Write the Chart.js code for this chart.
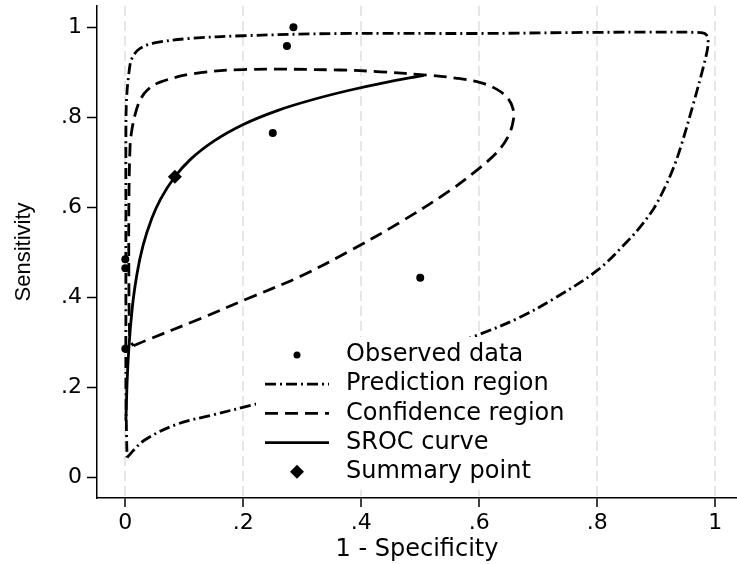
<!DOCTYPE html>
<html lang="en">
<head>
<meta charset="UTF-8">
<title>SROC plot</title>
<script src="https://cdn.jsdelivr.net/npm/chart.js"></script>
<style>
  html, body { margin: 0; padding: 0; background: #fff; overflow: hidden; }
</style>
</head>
<body>
<canvas id="sroc" width="737" height="564"></canvas>
<script>
  // axis ticks (Stata style labels)
  const xTicks = [0, 0.2, 0.4, 0.6, 0.8, 1];
  const xTickLabels = ['0', '.2', '.4', '.6', '.8', '1'];
  const yTicks = [0, 0.2, 0.4, 0.6, 0.8, 1];
  const yTickLabels = ['0', '.2', '.4', '.6', '.8', '1'];

  // observed studies (1 - specificity, sensitivity)
  const obsX = [0.285, 0.274, 0.250, 0.500, 0.0, 0.0, 0.0];
  const obsY = [1.000, 0.958, 0.765, 0.444, 0.485, 0.465, 0.286];

  // 95% prediction region
  const predX = [0.003, 0.031, 0.088, 0.144, 0.217, 0.300, 0.400, 0.500, 0.602, 0.669, 0.726, 0.800, 0.850, 0.875,
    0.897, 0.915, 0.930, 0.943, 0.963, 0.980, 0.988, 0.985, 0.975, 0.884, 0.750, 0.602, 0.364, 0.200, 0.110,
    0.054, 0.025, 0.011, 0.006, 0.002, 0.001, 0.001, 0.001, 0.001, 0.002, 0.003];
  const predY = [0.045, 0.082, 0.119, 0.138, 0.162, 0.190, 0.228, 0.271, 0.319, 0.356, 0.397, 0.460, 0.523, 0.560,
    0.600, 0.645, 0.690, 0.740, 0.830, 0.912, 0.962, 0.983, 0.988, 0.989, 0.988, 0.986, 0.986, 0.981, 0.975,
    0.966, 0.953, 0.930, 0.897, 0.838, 0.764, 0.600, 0.400, 0.200, 0.100, 0.045];

  // 95% confidence region
  const confX = [0.014, 0.034, 0.127, 0.212, 0.297, 0.381, 0.466, 0.551, 0.602, 0.632, 0.650, 0.658, 0.657, 0.648,
    0.630, 0.602, 0.560, 0.517, 0.432, 0.364, 0.200, 0.116, 0.059, 0.037, 0.025, 0.017, 0.011, 0.008, 0.006,
    0.006, 0.007, 0.009, 0.014];
  const confY = [0.293, 0.304, 0.353, 0.400, 0.447, 0.504, 0.567, 0.638, 0.689, 0.725, 0.760, 0.795, 0.820, 0.843,
    0.862, 0.877, 0.887, 0.893, 0.901, 0.905, 0.906, 0.897, 0.878, 0.860, 0.838, 0.808, 0.771, 0.734, 0.600,
    0.450, 0.330, 0.302, 0.293];

  // SROC curve
  const srocX = [0.001, 0.003, 0.006, 0.012, 0.020, 0.030, 0.045, 0.060, 0.084, 0.110, 0.150, 0.200, 0.260, 0.320,
    0.380, 0.440, 0.506];
  const srocY = [0.127, 0.212, 0.288, 0.380, 0.454, 0.515, 0.576, 0.619, 0.668, 0.706, 0.747, 0.784, 0.816, 0.840,
    0.860, 0.877, 0.893];

  // summary operating point
  const sumX = [0.084];
  const sumY = [0.668];

  const FONT = '"DejaVu Sans", sans-serif';
  const pts = (xs, ys) => xs.map((x, i) => ({ x: x, y: ys[i] }));

  Chart.defaults.font.family = FONT;
  Chart.defaults.color = '#000';

  // Stata-like legend drawn on an opaque white box inside the plot
  const srocLegend = {
    id: 'srocLegend',
    afterDatasetsDraw(chart) {
      const ctx = chart.ctx;
      ctx.save();
      ctx.fillStyle = '#fff';
      ctx.fillRect(256, 337, 319, 153);
      chart.data.datasets.forEach((ds, i) => {
        const y = 355 + i * 29.2;
        ctx.fillStyle = '#000';
        ctx.strokeStyle = '#000';
        if (ds.showLine) {
          ctx.lineWidth = ds.borderWidth;
          ctx.setLineDash(ds.borderDash || []);
          ctx.beginPath();
          ctx.moveTo(265, y);
          ctx.lineTo(329, y);
          ctx.stroke();
          ctx.setLineDash([]);
        } else if (ds.pointStyle === 'rectRot') {
          const r = ds.legendRadius;
          ctx.beginPath();
          ctx.moveTo(297 - r, y);
          ctx.lineTo(297, y - r);
          ctx.lineTo(297 + r, y);
          ctx.lineTo(297, y + r);
          ctx.closePath();
          ctx.fill();
        } else {
          ctx.beginPath();
          ctx.arc(297, y, ds.legendRadius, 0, Math.PI * 2);
          ctx.fill();
        }
        ctx.font = '24px ' + FONT;
        ctx.textBaseline = 'middle';
        ctx.textAlign = 'left';
        ctx.fillText(ds.label, 346, y);
      });
      ctx.restore();
    }
  };

  const lineSet = (label, xs, ys, dash, mode) => ({
    label: label,
    data: pts(xs, ys),
    showLine: true,
    pointRadius: 0,
    borderColor: '#000',
    backgroundColor: '#000',
    borderWidth: 2.8,
    borderDash: dash,
    tension: 0.35,
    cubicInterpolationMode: mode || 'default',
    fill: false
  });

  new Chart(document.getElementById('sroc'), {
    type: 'scatter',
    data: {
      datasets: [
        { label: 'Observed data', data: pts(obsX, obsY), pointStyle: 'circle', pointRadius: 4,
          backgroundColor: '#000', borderColor: '#000', borderWidth: 0, showLine: false, legendRadius: 3.5 },
        lineSet('Prediction region', predX, predY, [11, 4, 2, 4]),
        lineSet('Confidence region', confX, confY, [13, 7]),
        lineSet('SROC curve', srocX, srocY, [], 'monotone'),
        { label: 'Summary point', data: pts(sumX, sumY), pointStyle: 'rectRot', pointRadius: 7,
          backgroundColor: '#000', borderColor: '#000', borderWidth: 0, showLine: false, legendRadius: 7 }
      ]
    },
    options: {
      responsive: false,
      animation: false,
      layout: { autoPadding: false, padding: { top: 6, right: 0, bottom: 0, left: 0 } },
      plugins: { legend: { display: false }, tooltip: { enabled: false } },
      scales: {
        x: {
          type: 'linear',
          min: -0.048,
          max: 1.037,
          afterBuildTicks: s => { s.ticks = xTicks.map(v => ({ value: v })); },
          afterFit: s => { s.height = 66; s.paddingLeft = 0; s.paddingRight = 0; },
          ticks: {
            callback: v => xTickLabels[xTicks.indexOf(v)],
            font: { size: 22 },
            color: '#000',
            padding: 3,
            maxRotation: 0,
            autoSkip: false
          },
          grid: { color: '#e6e6e6', lineWidth: 2, tickColor: '#000', tickWidth: 1.5, tickLength: 9, tickBorderDash: [] },
          border: { color: '#000', width: 1.5, dash: [10, 5] },
          title: { display: true, text: '1 - Specificity', font: { size: 24 }, color: '#000', padding: { top: 0, bottom: 0 } }
        },
        y: {
          type: 'linear',
          min: -0.045,
          max: 1.047,
          afterBuildTicks: s => { s.ticks = yTicks.map(v => ({ value: v })); },
          afterFit: s => { s.width = 97; s.paddingTop = 0; s.paddingBottom = 0; },
          ticks: {
            callback: v => yTickLabels[yTicks.indexOf(v)],
            font: { size: 22 },
            color: '#000',
            padding: 5,
            autoSkip: false
          },
          grid: { drawOnChartArea: false, color: '#000', tickColor: '#000', tickWidth: 1.5, tickLength: 10 },
          border: { color: '#000', width: 1.5 },
          title: { display: true, text: 'Sensitivity', font: { family: '"Liberation Sans", Arial, sans-serif', size: 22 },
            color: '#000', padding: { top: 11, bottom: 0 } }
        }
      }
    },
    plugins: [srocLegend]
  });
</script>
</body>
</html>
